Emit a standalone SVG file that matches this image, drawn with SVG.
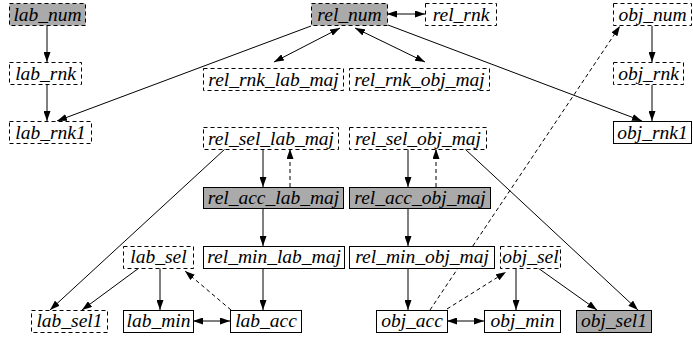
<svg xmlns="http://www.w3.org/2000/svg" width="693" height="341" viewBox="0 0 693 341">
  <defs>
    <marker id="arr" markerWidth="10" markerHeight="7" refX="10" refY="3.5" orient="auto-start-reverse" markerUnits="userSpaceOnUse">
      <path d="M0,0 L10,3.5 L0,7 z" fill="#000"/>
    </marker>
    <style>
      rect { stroke: #000; stroke-width: 1; }
      .d { stroke-dasharray: 4 3; }
      .g { fill: #aaaaaa; }
      .w { fill: #fff; }
      text { font-family: "Liberation Serif", "Times New Roman", serif; font-style: italic; font-size: 19.5px; text-anchor: middle; fill: #000; }
      #edges line { stroke: #000; stroke-width: 1; fill: none; }
      #edges .dl { stroke-dasharray: 4 3; }
      .e { marker-end: url(#arr); }
      .b { marker-start: url(#arr); marker-end: url(#arr); }
    </style>
  </defs>
  <rect width="693" height="341" fill="#fff" style="stroke:none"/>

  <g id="edges">
    <line class="e" x1="47" y1="26" x2="47" y2="62"/>
    <line class="e" x1="47" y1="85" x2="47" y2="121"/>
    <line class="e" x1="311" y1="26" x2="57" y2="121"/>
    <line class="b" x1="340" y1="28" x2="274" y2="62"/>
    <line class="b" x1="355" y1="28" x2="425" y2="62"/>
    <line class="b" x1="387" y1="14" x2="425" y2="14"/>
    <line class="e" x1="388" y1="25" x2="642" y2="121"/>
    <line class="e" x1="652" y1="26" x2="652" y2="62"/>
    <line class="e" x1="652" y1="85" x2="652" y2="121"/>
    <line class="e dl" x1="430" y1="310" x2="620" y2="26"/>
    <line class="e" x1="263" y1="149" x2="263" y2="187"/>
    <line class="e dl" x1="290" y1="187" x2="290" y2="149"/>
    <line class="e" x1="408" y1="149" x2="408" y2="187"/>
    <line class="e dl" x1="436" y1="187" x2="436" y2="149"/>
    <line class="e" x1="225" y1="149" x2="50" y2="310"/>
    <line class="e" x1="465" y1="149" x2="638" y2="310"/>
    <line class="e" x1="263" y1="209" x2="263" y2="246"/>
    <line class="e" x1="408" y1="209" x2="408" y2="246"/>
    <line class="e" x1="263" y1="268" x2="263" y2="310"/>
    <line class="e" x1="408" y1="268" x2="408" y2="310"/>
    <line class="e" x1="139" y1="268" x2="82" y2="310"/>
    <line class="e" x1="160" y1="268" x2="160" y2="310"/>
    <line class="e dl" x1="231" y1="310" x2="185" y2="271"/>
    <line class="b" x1="193" y1="321" x2="230" y2="321"/>
    <line class="b" x1="447" y1="321" x2="484" y2="321"/>
    <line class="e dl" x1="447" y1="309" x2="506" y2="272"/>
    <line class="e" x1="516" y1="268" x2="516" y2="310"/>
    <line class="e" x1="538" y1="268" x2="597" y2="310"/>
  </g>

  <g id="lab_num"><rect class="g d" x="9.5" y="3.5" width="76" height="22"/><text x="47.5" y="21">lab_num</text></g>
  <g id="rel_num"><rect class="g d" x="311.5" y="3.5" width="76" height="22"/><text x="349.5" y="21">rel_num</text></g>
  <g id="rel_rnk"><rect class="w d" x="425.5" y="3.5" width="71" height="22"/><text x="461" y="21">rel_rnk</text></g>
  <g id="obj_num"><rect class="w d" x="613.5" y="3.5" width="78" height="22"/><text x="652.5" y="21">obj_num</text></g>

  <g id="lab_rnk"><rect class="w d" x="9.5" y="62.5" width="72" height="22"/><text x="45.5" y="80">lab_rnk</text></g>
  <g id="rel_rnk_lab_maj"><rect class="w d" x="203.5" y="68.5" width="140" height="22"/><text x="273.5" y="86">rel_rnk_lab_maj</text></g>
  <g id="rel_rnk_obj_maj"><rect class="w d" x="349.5" y="68.5" width="140" height="22"/><text x="419.5" y="86">rel_rnk_obj_maj</text></g>
  <g id="obj_rnk"><rect class="w d" x="613.5" y="62.5" width="70" height="22"/><text x="648.5" y="80">obj_rnk</text></g>

  <g id="lab_rnk1"><rect class="w d" x="9.5" y="121.5" width="82" height="22"/><text x="50.5" y="139">lab_rnk1</text></g>
  <g id="obj_rnk1"><rect class="w" x="613.5" y="121.5" width="78" height="22"/><text x="652.5" y="139">obj_rnk1</text></g>
  <g id="rel_sel_lab_maj"><rect class="w d" x="203.5" y="127.5" width="135" height="22"/><text x="271" y="145">rel_sel_lab_maj</text></g>
  <g id="rel_sel_obj_maj"><rect class="w d" x="349.5" y="127.5" width="137" height="22"/><text x="418" y="145">rel_sel_obj_maj</text></g>

  <g id="rel_acc_lab_maj"><rect class="g" x="203.5" y="187.5" width="140" height="21"/><text x="273.5" y="204">rel_acc_lab_maj</text></g>
  <g id="rel_acc_obj_maj"><rect class="g" x="349.5" y="187.5" width="141" height="21"/><text x="420" y="204">rel_acc_obj_maj</text></g>

  <g id="lab_sel"><rect class="w d" x="123.5" y="246.5" width="70" height="22"/><text x="158.5" y="263">lab_sel</text></g>
  <g id="rel_min_lab_maj"><rect class="w" x="203.5" y="246.5" width="141" height="22"/><text x="274" y="263">rel_min_lab_maj</text></g>
  <g id="rel_min_obj_maj"><rect class="w" x="349.5" y="246.5" width="145" height="22"/><text x="422" y="263">rel_min_obj_maj</text></g>
  <g id="obj_sel"><rect class="w d" x="500.5" y="246.5" width="60" height="22"/><text x="530.5" y="263">obj_sel</text></g>

  <g id="lab_sel1"><rect class="w d" x="31.5" y="310.5" width="76" height="22"/><text x="69.5" y="327">lab_sel1</text></g>
  <g id="lab_min"><rect class="w" x="123.5" y="310.5" width="70" height="22"/><text x="158.5" y="327">lab_min</text></g>
  <g id="lab_acc"><rect class="w" x="230.5" y="310.5" width="71" height="22"/><text x="266" y="327">lab_acc</text></g>
  <g id="obj_acc"><rect class="w" x="376.5" y="310.5" width="71" height="22"/><text x="412" y="327">obj_acc</text></g>
  <g id="obj_min"><rect class="w" x="484.5" y="310.5" width="76" height="22"/><text x="522.5" y="327">obj_min</text></g>
  <g id="obj_sel1"><rect class="g" x="576.5" y="310.5" width="75" height="22"/><text x="614" y="327">obj_sel1</text></g>
</svg>
